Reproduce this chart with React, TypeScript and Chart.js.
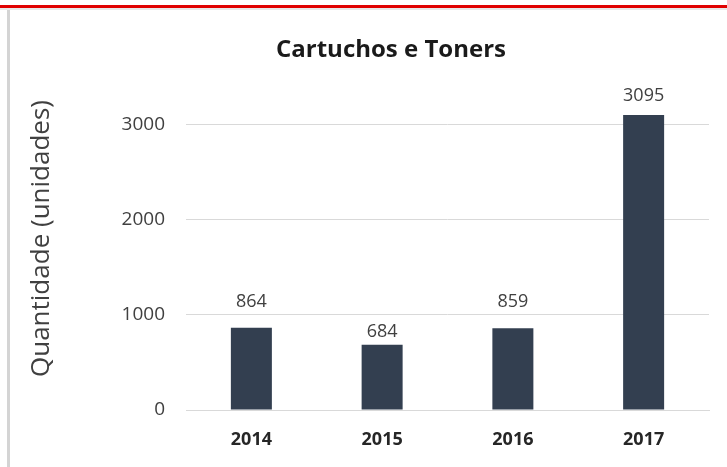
import React, { useEffect, useRef } from "react";
import { Chart, registerables } from "chart.js";

Chart.register(...registerables);

const categories = ["2014", "2015", "2016", "2017"];
const values = [864, 684, 859, 3095];
const yTicks = [0, 1000, 2000, 3000];
const chartTitle = "Cartuchos e Toners";
const yTitle = "Quantidade (unidades)";

const FONT = "'Open Sans', 'Liberation Sans', sans-serif";
// gap (px) between each value label baseline and its bar top, as in the original
const LABEL_GAPS = [21, 8, 21, 14];

const labelPlugin = {
  id: "valueLabels",
  afterDatasetsDraw(chart: any) {
    const ctx = chart.ctx;
    const meta = chart.getDatasetMeta(0);
    ctx.save();
    ctx.font = `18px ${FONT}`;
    ctx.fillStyle = "#404040";
    ctx.textAlign = "center";
    ctx.textBaseline = "alphabetic";
    meta.data.forEach((el: any, i: number) => {
      ctx.fillText(String(values[i]), el.x, el.y - LABEL_GAPS[i]);
    });
    ctx.restore();
  },
};

const titlePlugin = {
  id: "customTitle",
  afterDraw(chart: any) {
    const ctx = chart.ctx;
    ctx.save();
    ctx.font = `bold 24px ${FONT}`;
    ctx.fillStyle = "#1a1a1a";
    ctx.textAlign = "center";
    ctx.textBaseline = "alphabetic";
    ctx.fillText(chartTitle, 381, 47);
    ctx.restore();
  },
};

export default function App() {
  const ref = useRef<HTMLCanvasElement | null>(null);
  useEffect(() => {
    if (!ref.current) return;
    const chart = new Chart(ref.current, {
      type: "bar",
      data: {
        labels: categories,
        datasets: [
          {
            data: values,
            backgroundColor: "#333f50",
            categoryPercentage: 1,
            barPercentage: 0.3136,
          },
        ],
      },
      options: {
        animation: false,
        responsive: false,
        maintainAspectRatio: false,
        layout: { padding: { left: 0, right: 18, top: 57, bottom: 0 } },
        plugins: {
          legend: { display: false },
          tooltip: { enabled: false },
          title: { display: false },
        },
        scales: {
          x: {
            afterFit(axis: any) {
              axis.height = 57;
            },
            grid: { display: false, drawTicks: false },
            border: { display: true, color: "#d9d9d9" },
            ticks: {
              color: "#262626",
              font: { family: FONT, size: 18, weight: "bold" },
              padding: 19,
            },
          },
          y: {
            min: 0,
            max: 3600,
            afterFit(axis: any) {
              axis.width = 176;
            },
            afterBuildTicks(axis: any) {
              axis.ticks = yTicks.map((v) => ({ value: v }));
            },
            grid: { color: "#d9d9d9", drawTicks: false },
            border: { display: false },
            ticks: {
              color: "#404040",
              font: { family: FONT, size: 19 },
              padding: 21,
              callback: (v: any) => String(v),
            },
            title: {
              display: true,
              text: yTitle,
              color: "#404040",
              font: { family: FONT, size: 26 },
              padding: { top: 16, bottom: 0 },
            },
          },
        },
      },
      plugins: [labelPlugin, titlePlugin],
    });
    return () => chart.destroy();
  }, []);

  return (
    <div style={{ position: "fixed", left: 0, top: 0, width: 727, height: 467, background: "#fff" }}>
      <div style={{ position: "absolute", left: 0, top: 5, width: 727, height: 3, background: "#e00000" }} />
      <div style={{ position: "absolute", left: 0, top: 8, width: 727, height: 2, background: "#e8e8e8" }} />
      <div style={{ position: "absolute", left: 7, top: 10, width: 3, height: 457, background: "#d4d4d4" }} />
      <canvas
        ref={ref}
        width={717}
        height={457}
        style={{ position: "absolute", left: 10, top: 10, width: 717, height: 457 }}
      />
    </div>
  );
}
